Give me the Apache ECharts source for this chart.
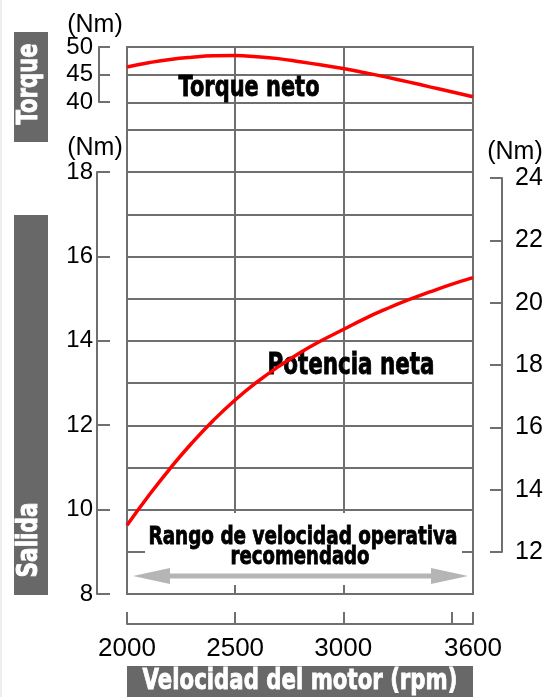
<!DOCTYPE html>
<html><head><meta charset="utf-8">
<script src="https://cdn.jsdelivr.net/npm/echarts@6/dist/echarts.min.js"></script>
<style>html,body{margin:0;padding:0;background:#fff}#c{width:560px;height:697px}</style>
</head><body><div id="c"></div>
<script>
// ---- data ----
const rpm          = [2000,2100,2200,2300,2400,2500,2600,2700,2800,2900,3000,3100,3200,3300,3400,3500,3600];
const torqueNeto   = [46.4,47.15,47.75,48.15,48.4,48.45,48.25,47.9,47.35,46.75,46.1,45.35,44.55,43.7,42.8,41.9,41.0];
const potenciaNeta = [9.63,10.33,10.98,11.58,12.12,12.6,13.02,13.39,13.72,14.01,14.27,14.53,14.76,14.97,15.16,15.34,15.5];
const verticalGridRpm = [2500, 3000];
const xTickValues  = [2000, 2500, 3000, 3500, 3600];
const xTickLabels  = [2000, 2500, 3000, 3600];
const torqueTicks  = [40, 45, 50];
const leftTicks    = [8, 10, 12, 14, 16, 18];
const rightTicks   = [12, 14, 16, 18, 20, 22, 24];

const GRAY = '#6f6f6f';
const BOX = '#686868';
const NUMFONT = '"Liberation Sans", Arial, sans-serif';
const HEAVY = '"DejaVu Sans", sans-serif';

const ctx = document.createElement('canvas').getContext('2d');
function fit(text, font, w) { ctx.font = font; return w / ctx.measureText(text).width; }

function heavyText(text, x, y, size, width, color, rot) {
  const font = 'bold ' + size + 'px ' + HEAVY;
  return {
    type: 'text', x: x, y: y, rotation: rot || 0, scaleX: fit(text, font, width - 1), z: 20,
    style: { text: text, font: font, fill: color, stroke: color, lineWidth: 0.9,
             align: 'center', verticalAlign: 'middle', textAlign: 'center', textVerticalAlign: 'middle' }
  };
}
function unitText(x, y) {
  return { type: 'text', x: x, y: y, z: 20, style: { text: '(Nm)', font: '25px ' + NUMFONT, fill: '#000',
    align: 'center', verticalAlign: 'middle', textAlign: 'center', textVerticalAlign: 'middle' } };
}

const hiddenX = (g) => ({ gridIndex: g, type: 'value', show: false, min: 0, max: 1 });
const lineS = { color: GRAY, width: 2 };
const noSep = v => String(v);

const chart = echarts.init(document.getElementById('c'), null, { renderer: 'canvas' });
const option = {
  animation: false,
  backgroundColor: '#fff',
  grid: [
    { left: 127, top: 47, width: 346, height: 83, show: true, borderColor: GRAY, borderWidth: 2, backgroundColor: 'transparent', containLabel: false, outerBoundsMode: 'none' },
    { left: 127, top: 130, width: 346, height: 464, show: true, borderColor: GRAY, borderWidth: 2, backgroundColor: 'transparent', containLabel: false, outerBoundsMode: 'none' },
    { left: 99, top: 47, width: 10, height: 55, containLabel: false, outerBoundsMode: 'none' },
    { left: 97, top: 172, width: 10, height: 422, containLabel: false, outerBoundsMode: 'none' },
    { left: 492, top: 178, width: 10, height: 374, containLabel: false, outerBoundsMode: 'none' },
    { left: 127, top: 600, width: 346, height: 24, containLabel: false, outerBoundsMode: 'none' }
  ],
  xAxis: [
    { gridIndex: 0, type: 'value', min: rpm[0], max: rpm[rpm.length - 1], show: false },
    { gridIndex: 1, type: 'value', min: rpm[0], max: rpm[rpm.length - 1], show: false },
    hiddenX(2), hiddenX(3), hiddenX(4),
    { gridIndex: 5, type: 'value', min: xTickValues[0], max: xTickValues[xTickValues.length - 1], interval: 500,
      position: 'bottom',
      axisLine: { show: true, onZero: false, lineStyle: lineS },
      axisTick: { show: true, inside: true, length: 12, lineStyle: lineS, customValues: xTickValues },
      axisLabel: { show: true, customValues: xTickLabels, formatter: noSep, fontSize: 26, margin: 12, color: '#000', fontFamily: NUMFONT },
      splitLine: { show: false } }
  ],
  yAxis: [
    { gridIndex: 0, type: 'value', min: 35, max: 50, interval: 5,
      axisLine: { show: false }, axisTick: { show: false }, axisLabel: { show: false },
      splitLine: { show: true, lineStyle: lineS } },
    { gridIndex: 1, type: 'value', min: 8, max: 19, interval: 1,
      axisLine: { show: false }, axisTick: { show: false }, axisLabel: { show: false },
      splitLine: { show: true, lineStyle: lineS } },
    { gridIndex: 2, type: 'value', position: 'left', min: torqueTicks[0], max: torqueTicks[torqueTicks.length - 1], interval: 5,
      axisLine: { show: true, onZero: false, lineStyle: lineS },
      axisTick: { show: true, inside: true, length: 11, lineStyle: lineS },
      axisLabel: { show: true, fontSize: 24, margin: 6, color: '#000', fontFamily: NUMFONT, formatter: noSep },
      splitLine: { show: false } },
    { gridIndex: 3, type: 'value', position: 'left', min: leftTicks[0], max: leftTicks[leftTicks.length - 1], interval: 2,
      axisLine: { show: true, onZero: false, lineStyle: lineS },
      axisTick: { show: true, inside: true, length: 13, lineStyle: lineS },
      axisLabel: { show: true, fontSize: 24, margin: 4, color: '#000', fontFamily: NUMFONT, formatter: noSep },
      splitLine: { show: false } },
    { gridIndex: 4, type: 'value', position: 'right', min: rightTicks[0], max: rightTicks[rightTicks.length - 1], interval: 2,
      axisLine: { show: true, onZero: false, lineStyle: lineS },
      axisTick: { show: true, inside: true, length: 12, lineStyle: lineS },
      axisLabel: { show: true, fontSize: 25, margin: 13, color: '#000', fontFamily: NUMFONT, formatter: noSep },
      splitLine: { show: false } },
    { gridIndex: 5, type: 'value', show: false, min: 0, max: 1 }
  ],
  series: [
    { type: 'line', xAxisIndex: 0, yAxisIndex: 0, data: [], z: 1, silent: true,
      markLine: { silent: true, symbol: ['none', 'none'], label: { show: false }, animation: false,
        lineStyle: { color: GRAY, width: 2, type: 'solid' }, emphasis: { disabled: true },
        data: verticalGridRpm.map(v => ({ xAxis: v })) } },
    { type: 'line', xAxisIndex: 1, yAxisIndex: 1, data: [], z: 1, silent: true,
      markLine: { silent: true, symbol: ['none', 'none'], label: { show: false }, animation: false,
        lineStyle: { color: GRAY, width: 2, type: 'solid' }, emphasis: { disabled: true },
        data: verticalGridRpm.map(v => ({ xAxis: v })) } },
    { name: 'Torque neto', type: 'line', xAxisIndex: 0, yAxisIndex: 0, z: 30,
      data: rpm.map((r, i) => [r, torqueNeto[i]]), smooth: true, symbol: 'none', showSymbol: false,
      lineStyle: { color: '#ff0000', width: 3.5 } },
    { name: 'Potencia neta', type: 'line', xAxisIndex: 1, yAxisIndex: 1, z: 30,
      data: rpm.map((r, i) => [r, potenciaNeta[i]]), smooth: true, symbol: 'none', showSymbol: false,
      lineStyle: { color: '#ff0000', width: 3.5 } }
  ],
  graphic: { elements: [
    { type: 'rect', shape: { x: 0, y: 0, width: 2, height: 697 }, style: { fill: '#eeeeee' }, z: 0 },
    { type: 'rect', shape: { x: 14, y: 32, width: 34, height: 110 }, style: { fill: BOX }, z: 10 },
    { type: 'rect', shape: { x: 14, y: 215, width: 34, height: 380 }, style: { fill: BOX }, z: 10 },
    { type: 'rect', shape: { x: 127, y: 666, width: 346, height: 40 }, style: { fill: BOX }, z: 10 },
    heavyText('Torque', 30, 84, 28, 82, '#fff', Math.PI / 2),
    heavyText('Salida', 30, 540, 28, 76, '#fff', Math.PI / 2),
    heavyText('Velocidad del motor (rpm)', 300, 681, 29, 316, '#fff'),
    unitText(95, 25), unitText(95, 148), unitText(515, 152),
    heavyText('Torque neto', 249, 88, 29, 142, '#000'),
    heavyText('Potencia neta', 351, 366, 30, 168, '#000'),
    { type: 'rect', shape: { x: 145, y: 513, width: 317, height: 72 }, style: { fill: '#fff' }, z: 15 },
    heavyText('Rango de velocidad operativa', 303, 537, 25, 310, '#000'),
    heavyText('recomendado', 300, 557, 25, 140, '#000'),
    { type: 'polygon', z: 16, shape: { points: [[133,576],[170,568],[170,573.5],[431,573.5],[431,568],[468,576],[431,584],[431,578.5],[170,578.5],[170,584]] },
      style: { fill: '#b5b5b5' } }
  ] }
};
chart.setOption(option);
</script>
</body></html>
